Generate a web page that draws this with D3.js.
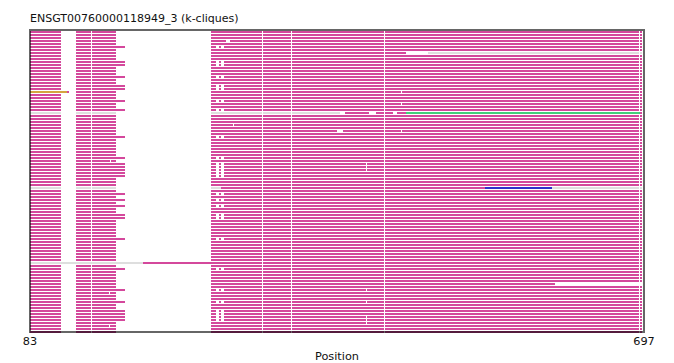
<!DOCTYPE html>
<html>
<head>
<meta charset="utf-8">
<script src="https://cdn.jsdelivr.net/npm/d3@7"></script>
<style>
body { margin: 0; background: #fff; }
text { font-family: 'DejaVu Sans', sans-serif; fill: #111; }
</style>
</head>
<body>
<div id="chart"></div>
<script>
const title = 'ENSGT00760000118949_3 (k-cliques)'
const xDomain = [83, 697]
const xTicks = [83, 697]
const rowTotal = 101

// aligned blocks of an ordinary member
const blocks = [[83, 114], [129, 169], [264, 695]]
// columns that leave a thin white gap in the rows
const breaks = [144, 315, 344, 437, 692]
// members whose second block runs on to 178
const longRows = [5, 10, 11, 15, 18, 19, 23, 26, 35, 42, 44, 45, 46, 47, 48, 54, 56, 58, 61, 62, 69, 79, 86, 90, 93, 94, 95, 96]
const longEnd = 178
// small inserts right after the third block starts
const insertGaps = [[269, 272], [274, 277]]
// one-off gaps: [row, from, to]
const extraGaps = [
	[3, 279, 283], [31, 286, 287], [33, 390, 396], [33, 454, 455],
	[20, 454, 455], [24, 454, 455], [43, 163, 164], [87, 162, 163], [98, 162, 163],
	[44, 419, 420], [45, 419, 420], [46, 419, 420], [86, 419, 420], [90, 419, 420],
	[95, 419, 420], [96, 419, 420], [97, 419, 420],
	[7, 459, 481], [27, 393, 398], [27, 422, 429], [27, 446, 450], [84, 608, 695]
]
// rows with their own block layout
const blockRows = [
	[20, [[120, 122], [129, 169], [264, 695]]],
	[77, [[196, 695]]]
]
// stretches shown grey (not in a clique): [row, from, to]
const greyRuns = [[7, 481, 695], [27, 83, 393], [52, 83, 274], [52, 605, 695]]
// solid runs drawn over the rows: [row, from, to, colour]
const cliqueRuns = [
	[20, 83, 120, '#d4a43f'],
	[27, 459, 693, '#43cf7c'],
	[52, 538, 605, '#2f2fcb'],
	[77, 83, 196, '#dedede']
]

const margin = { top: 30, right: 30, bottom: 31, left: 30 }
const width = 674
const height = 363
const memberColor = '#d4489c'
const greyColor = '#dedede'

const svg = d3.select('#chart')
	.append('svg')
	.attr('width', width)
	.attr('height', height)

const x = d3.scaleLinear()
	.domain(xDomain)
	.range([margin.left, width - margin.right])

// row i sits in a 2px band, rows 3px apart
const y = d3.scaleLinear()
	.domain([0, rowTotal])
	.range([margin.top + 1, margin.top + 1 + 3 * rowTotal])

const cut = (segs, from, to) => {
	const out = []
	segs.forEach(([a, b]) => {
		if (to <= a || from >= b) return out.push([a, b])
		if (from > a) out.push([a, from])
		if (to < b) out.push([to, b])
	})
	return out
}

const pieces = []
d3.range(rowTotal).forEach(row => {
	const own = blockRows.find(d => d[0] === row)
	let segs = own ? own[1].map(d => d.slice()) : blocks.map(d => d.slice())
	if (!own && longRows.includes(row)) segs[1][1] = longEnd
	if (longRows.includes(row)) insertGaps.forEach(([a, b]) => { segs = cut(segs, a, b) })
	breaks.forEach(p => { segs = cut(segs, p, p + 1) })
	extraGaps.filter(d => d[0] === row).forEach(d => { segs = cut(segs, d[1], d[2]) })

	const greys = greyRuns.filter(d => d[0] === row)
	segs.forEach(([a, b]) => {
		let rest = [[a, b]]
		greys.forEach(g => {
			const lo = Math.max(a, g[1])
			const hi = Math.min(b, g[2])
			if (hi > lo) {
				pieces.push({ row, from: lo, to: hi, color: greyColor })
				rest = cut(rest, lo, hi)
			}
		})
		rest.forEach(([c, d]) => pieces.push({ row, from: c, to: d, color: memberColor }))
	})
})
cliqueRuns.forEach(([row, from, to, color]) => pieces.push({ row, from, to, color }))

svg.append('g')
	.attr('shape-rendering', 'crispEdges')
	.selectAll('rect')
	.data(pieces)
	.enter()
	.append('rect')
	.attr('x', d => x(d.from))
	.attr('y', d => y(d.row))
	.attr('width', d => x(d.to) - x(d.from))
	.attr('height', 2)
	.style('fill', d => d.color)

// frame
svg.append('rect')
	.attr('x', margin.left)
	.attr('y', margin.top)
	.attr('width', width - margin.left - margin.right)
	.attr('height', height - margin.top - margin.bottom)
	.style('fill', 'none')
	.style('stroke', '#000')
	.style('stroke-opacity', 0.6)
	.style('stroke-width', 2)
	.attr('shape-rendering', 'crispEdges')

svg.append('g')
	.selectAll('text')
	.data(xTicks)
	.enter()
	.append('text')
	.attr('x', d => x(d))
	.attr('y', 345)
	.style('font-size', '11.3px')
	.style('text-anchor', 'middle')
	.text(d => d)

svg.append('text')
	.attr('x', (x(xDomain[0]) + x(xDomain[1])) / 2)
	.attr('y', 359.5)
	.style('font-size', '11.3px')
	.style('text-anchor', 'middle')
	.text('Position')

svg.append('text')
	.attr('x', margin.left)
	.attr('y', 22)
	.style('font-size', '11px')
	.text(title)
</script>
</body>
</html>
